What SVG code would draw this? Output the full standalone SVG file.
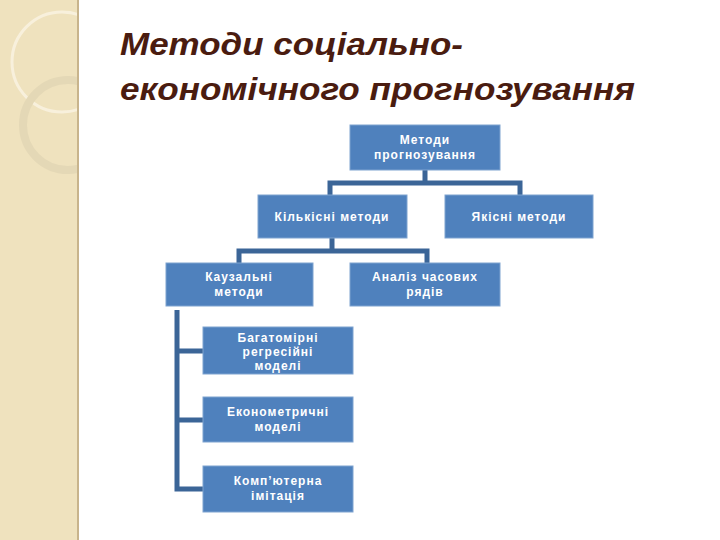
<svg xmlns="http://www.w3.org/2000/svg" width="720" height="540" viewBox="0 0 720 540">
<style>
.b{fill:#4F81BD;stroke:#7FA3D0;stroke-width:1}
.t{font-family:"Liberation Sans",Arial,sans-serif;font-size:12px;font-weight:bold;fill:#fff;text-anchor:middle;letter-spacing:1px}
.c{fill:none;stroke:#3B6597;stroke-width:5}
.h{font-family:"Liberation Sans",Arial,sans-serif;font-size:31px;font-weight:bold;font-style:italic;fill:#4A1C10}
</style>
<defs><clipPath id="cp"><rect width="78" height="540"/></clipPath></defs>
<rect width="720" height="540" fill="#fff"/>
<rect width="78" height="540" fill="#EFE2BE"/>
<g clip-path="url(#cp)">
<circle cx="62" cy="62" r="50" fill="none" stroke="#F8F0DC" stroke-width="3"/>
<circle cx="68" cy="125" r="45" fill="none" stroke="#E4D8B6" stroke-width="8"/>
</g>
<line x1="78" y1="0" x2="78" y2="540" stroke="#C8B48C" stroke-width="2"/>
<text class="h" x="120" y="55" textLength="343" lengthAdjust="spacingAndGlyphs">Методи соціально-</text>
<text class="h" x="120" y="100" textLength="515" lengthAdjust="spacingAndGlyphs">економічного прогнозування</text>
<g id="connectors">
<path class="c" d="M425 170V183M330 195V183H520V195"/>
<path class="c" d="M332 238V251M239 263V251H427V263"/>
<path class="c" d="M177 310V489H203M177 351H203M177 420H203"/>
</g>
<g id="n1"><rect class="b" x="350" y="125" width="150" height="45"/><text class="t" x="425" y="144">Методи</text><text class="t" x="425" y="159">прогнозування</text></g>
<g id="n2"><rect class="b" x="258" y="195" width="149" height="43"/><text class="t" x="332" y="221">Кількісні методи</text></g>
<g id="n3"><rect class="b" x="445" y="195" width="148" height="43"/><text class="t" x="519" y="221">Якісні методи</text></g>
<g id="n4"><rect class="b" x="166" y="263" width="147" height="43"/><text class="t" x="239" y="281">Каузальні</text><text class="t" x="239" y="296">методи</text></g>
<g id="n5"><rect class="b" x="350" y="263" width="150" height="43"/><text class="t" x="425" y="281">Аналіз часових</text><text class="t" x="425" y="296">рядів</text></g>
<g id="n6"><rect class="b" x="203" y="327" width="150" height="47"/><text class="t" x="278" y="342">Багатомірні</text><text class="t" x="278" y="356">регресійні</text><text class="t" x="278" y="370">моделі</text></g>
<g id="n7"><rect class="b" x="203" y="397" width="150" height="45"/><text class="t" x="278" y="416">Економетричні</text><text class="t" x="278" y="431">моделі</text></g>
<g id="n8"><rect class="b" x="203" y="466" width="150" height="46"/><text class="t" x="278" y="485">Комп’ютерна</text><text class="t" x="278" y="500">імітація</text></g>
</svg>
